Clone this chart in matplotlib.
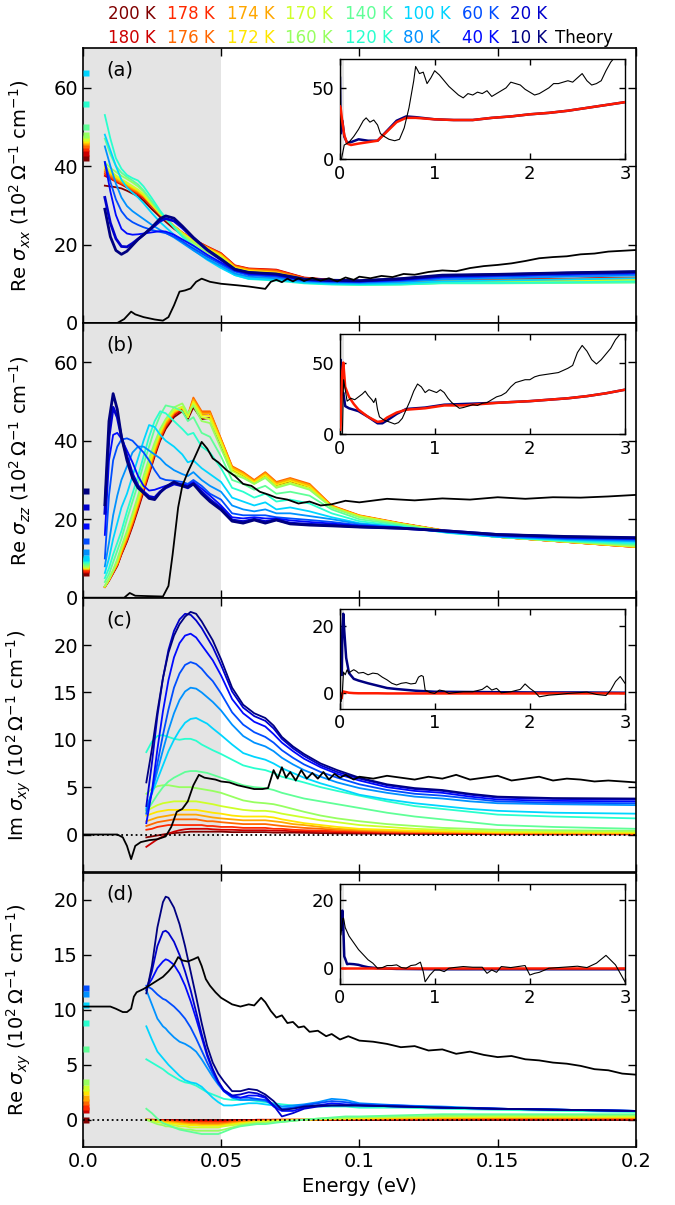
import numpy as np
import matplotlib
matplotlib.use('Agg')
import matplotlib.pyplot as plt

temps = [200, 180, 178, 176, 174, 172, 170, 160, 140, 120, 100, 80, 60, 40, 20, 10]
nan = np.nan

# ---------------- (a) Re sigma_xx ----------------
e_a = [0.008, 0.010, 0.012, 0.014, 0.016, 0.018, 0.020, 0.022, 0.025, 0.028, 0.030, 0.033, 0.036, 0.040,
       0.045, 0.050, 0.055, 0.060, 0.070, 0.080, 0.090, 0.100, 0.115, 0.130, 0.150, 0.175, 0.200]
re_xx = [
    [35.0, 34.8, 34.6, 34.3, 33.7, 33.0, 32.3, 31.2, 29.0, 27.0, 25.8, 24.0, 22.5, 20.8, 19.0, 17.3, 14.4, 13.7, 13.4, 11.5, 11.0, 10.6, 10.6, 11.0, 11.0, 11.2, 11.5],
    [37.5, 36.8, 36.0, 35.3, 34.5, 33.6, 32.8, 31.8, 29.7, 27.5, 26.3, 24.6, 23.0, 21.3, 19.5, 17.8, 14.7, 13.9, 13.6, 11.6, 11.0, 10.6, 10.6, 11.0, 11.1, 11.3, 11.6],
    [38.0, 37.0, 36.2, 35.5, 34.7, 33.8, 33.0, 32.0, 29.8, 27.6, 26.4, 24.6, 23.0, 21.3, 19.4, 17.7, 14.6, 13.8, 13.5, 11.5, 10.9, 10.5, 10.5, 10.9, 11.0, 11.2, 11.5],
    [38.5, 37.4, 36.5, 35.7, 34.9, 34.0, 33.2, 32.2, 30.0, 27.7, 26.5, 24.7, 23.0, 21.2, 19.3, 17.6, 14.5, 13.7, 13.3, 11.4, 10.8, 10.4, 10.4, 10.8, 10.9, 11.1, 11.4],
    [39.0, 37.8, 36.8, 36.0, 35.2, 34.3, 33.5, 32.4, 30.1, 27.8, 26.5, 24.7, 23.0, 21.1, 19.2, 17.4, 14.3, 13.5, 13.0, 11.2, 10.7, 10.3, 10.3, 10.7, 10.7, 10.9, 11.2],
    [39.5, 38.2, 37.2, 36.3, 35.5, 34.6, 33.8, 32.6, 30.2, 27.8, 26.5, 24.7, 22.9, 21.0, 19.0, 17.2, 14.1, 13.3, 12.8, 11.0, 10.5, 10.1, 10.1, 10.5, 10.5, 10.7, 11.0],
    [40.0, 38.7, 37.6, 36.6, 35.8, 34.9, 34.0, 32.8, 30.3, 27.9, 26.5, 24.6, 22.8, 20.8, 18.7, 16.9, 13.8, 13.0, 12.5, 10.8, 10.3, 10.0, 10.0, 10.4, 10.4, 10.5, 10.7],
    [41.0, 39.5, 38.5, 37.5, 36.7, 35.8, 34.8, 33.5, 30.8, 28.2, 26.7, 24.6, 22.6, 20.4, 18.0, 16.2, 13.3, 12.4, 11.8, 10.5, 10.1, 9.8, 9.9, 10.2, 10.2, 10.3, 10.4],
    [47.0, 43.0, 40.0, 38.3, 37.2, 36.3, 35.3, 33.8, 31.0, 28.2, 26.6, 24.4, 22.2, 19.8, 17.2, 15.0, 12.6, 11.6, 11.1, 10.2, 9.9, 9.7, 9.8, 10.1, 10.1, 10.2, 10.3],
    [53.0, 47.0, 42.0, 39.3, 37.7, 36.9, 36.3, 34.8, 31.8, 28.6, 26.8, 24.3, 22.0, 19.4, 16.6, 14.3, 12.2, 11.2, 10.8, 10.1, 9.8, 9.7, 9.8, 10.2, 10.2, 10.4, 10.6],
    [48.0, 44.0, 40.0, 36.5, 34.5, 33.2, 32.0, 30.5, 28.0, 25.7, 24.4, 22.5, 20.8, 18.6, 16.1, 14.0, 12.2, 11.3, 11.0, 10.3, 10.0, 9.9, 10.1, 10.6, 10.8, 11.1, 11.4],
    [45.0, 40.0, 35.5, 32.0, 29.8, 28.5, 27.5, 26.5, 25.0, 23.7, 23.0, 21.8, 20.4, 18.5, 16.3, 14.5, 12.6, 11.8, 11.4, 10.6, 10.3, 10.2, 10.5, 11.1, 11.4, 11.8, 12.1],
    [41.0, 36.0, 31.5, 28.5, 26.7, 25.7, 25.0, 24.4, 23.7, 23.2, 22.9, 22.0, 20.8, 19.0, 16.9, 15.0, 13.1, 12.2, 11.8, 10.8, 10.5, 10.4, 10.8, 11.5, 11.8, 12.2, 12.5],
    [41.0, 33.5, 27.5, 24.0, 22.8, 22.5, 22.6, 22.8, 23.1, 23.4, 23.3, 22.5, 21.3, 19.7, 17.4, 15.4, 13.4, 12.5, 12.1, 11.0, 10.7, 10.6, 11.0, 11.8, 12.1, 12.5, 12.8],
    [32.0, 25.5, 21.5, 19.5, 19.4, 20.3, 21.4, 22.5, 24.2, 26.0, 26.6, 26.0, 24.3, 21.6, 18.6, 16.1, 13.6, 12.8, 12.4, 11.1, 10.8, 10.7, 11.2, 12.0, 12.3, 12.7, 13.0],
    [29.0, 22.0, 18.5, 17.5, 18.3, 19.8, 21.3, 22.5, 24.4, 26.6, 27.3, 26.7, 24.7, 21.8, 18.7, 16.3, 13.7, 12.9, 12.5, 11.2, 10.9, 10.8, 11.3, 12.2, 12.4, 12.8, 13.1],
]
dc_xx = [42.0, 43.3, 44.5, 45.3, 46.2, 46.7, 47.2, 48.0, 50.0, 55.8, 63.8, nan, nan, nan, nan, nan]
th_a_e = [0.0, 0.0125, 0.015, 0.0175, 0.019, 0.022, 0.026, 0.029, 0.031, 0.033, 0.035, 0.037, 0.039, 0.041,
          0.043, 0.046, 0.050, 0.053, 0.056, 0.060, 0.063, 0.066, 0.068, 0.070, 0.072, 0.074, 0.076, 0.078,
          0.080, 0.083, 0.086, 0.089, 0.092, 0.095, 0.098, 0.100, 0.104, 0.108, 0.112, 0.116, 0.120, 0.125,
          0.130, 0.135, 0.140, 0.145, 0.150, 0.155, 0.160, 0.165, 0.170, 0.175, 0.180, 0.185, 0.190, 0.195, 0.200]
th_a = [0.0, 0.0, 1.0, 2.9, 2.2, 1.5, 0.9, 0.6, 1.5, 4.5, 8.0, 8.3, 8.8, 10.5,
        11.3, 10.5, 10.0, 9.8, 9.6, 9.3, 9.0, 8.7, 10.5, 11.0, 10.4, 11.3, 10.6, 11.4,
        10.7, 11.5, 10.8, 11.4, 10.6, 11.6, 11.0, 11.8, 11.4, 12.0, 11.7, 12.5, 12.3, 13.0,
        13.4, 13.2, 14.0, 14.5, 14.8, 15.2, 15.8, 16.5, 16.8, 17.0, 17.5, 17.7, 18.2, 18.4, 18.6]
ins_a_e = [0.005, 0.012, 0.03, 0.05, 0.08, 0.12, 0.2, 0.3, 0.4, 0.5, 0.6, 0.7, 0.8, 1.0, 1.2, 1.4,
           1.6, 1.8, 2.0, 2.2, 2.4, 2.6, 2.8, 3.0]
ins_a_cold = [57, 18, 27, 16, 11.5, 12, 14, 13, 13, 20, 27, 30, 29.5, 28, 27.5, 27.5, 29, 30, 31.5, 32.5, 34, 36, 38, 40]
ins_a_hot = [37, 36, 26, 17, 11, 10, 11, 12, 13, 19.5, 26, 29, 29, 28, 27.5, 27.5, 29, 30, 31.5, 32.5, 34, 36, 38, 40]
ins_a_th_e = [0, 0.02, 0.05, 0.1, 0.15, 0.2, 0.25, 0.28, 0.32, 0.36, 0.4, 0.43, 0.47, 0.52, 0.58, 0.63,
              0.68, 0.73, 0.78, 0.8, 0.84, 0.88, 0.92, 0.96, 1.0, 1.05, 1.1, 1.15, 1.2, 1.25, 1.3, 1.35,
              1.4, 1.45, 1.5, 1.55, 1.6, 1.65, 1.7, 1.75, 1.8, 1.85, 1.9, 1.95, 2.0, 2.05, 2.1, 2.15, 2.2,
              2.25, 2.3, 2.35, 2.4, 2.45, 2.5, 2.55, 2.6, 2.65, 2.7, 2.75, 2.8, 2.85, 2.9]
ins_a_th = [0, 0, 10, 12, 16, 21, 27, 29, 26, 27.5, 24, 18, 16, 14, 13, 14,
            22, 36, 55, 65, 60, 61, 53, 57, 62, 59, 55, 51, 48, 45, 43, 46,
            45, 47, 46, 48, 44, 46, 48, 50, 54, 53, 52, 49, 47, 45, 46, 48, 50,
            53, 53, 54, 55, 54, 57, 60, 55, 52, 53, 55, 62, 68, 72]

# ---------------- (b) Re sigma_zz ----------------
e_b = [0.008, 0.0095, 0.011, 0.0125, 0.014, 0.016, 0.018, 0.020, 0.022, 0.024, 0.026, 0.028, 0.030, 0.033,
       0.036, 0.038, 0.040, 0.043, 0.046, 0.050, 0.054, 0.058, 0.062, 0.066, 0.070, 0.075, 0.082, 0.090,
       0.100, 0.115, 0.132, 0.150, 0.175, 0.200]
re_zz = [
    [2.7, 4.3, 6.2, 8.1, 11, 14.3, 18.2, 22.5, 27, 31.5, 36, 40, 43, 46, 47.5, 45.5, 48.5, 45.5, 45.8, 38.8, 32.5, 31, 29.2, 31, 28.7, 29.6, 28.3, 23.2, 20.8, 18.9, 16.9, 15.5, 14.2, 13],
    [2.8, 4.4, 6.4, 8.3, 11.2, 14.6, 18.6, 23, 27.5, 32, 36.5, 40.5, 43.5, 46.5, 48, 46, 50, 46.8, 47, 40, 33, 31.5, 29.6, 31.5, 29.1, 30, 28.6, 23.3, 20.8, 18.9, 16.9, 15.5, 14.2, 12.9],
    [2.8, 4.5, 6.5, 8.4, 11.3, 14.8, 18.8, 23.2, 27.7, 32.2, 36.7, 40.7, 43.7, 46.8, 48.3, 46.3, 50.5, 47.2, 47.2, 40.3, 33.3, 31.8, 29.8, 31.8, 29.3, 30.3, 28.8, 23.4, 20.9, 18.9, 16.9, 15.5, 14.2, 12.9],
    [2.8, 4.5, 6.5, 8.5, 11.5, 15, 19, 23.5, 28, 32.5, 37, 41, 44, 47, 48.5, 46.5, 51, 47.5, 47.5, 40.5, 33.5, 32, 30, 32, 29.5, 30.5, 29, 23.5, 21, 19, 17, 15.6, 14.3, 13],
    [2.8, 4.5, 6.6, 8.7, 11.8, 15.4, 19.5, 24, 28.5, 33, 37.5, 41.5, 44.5, 47.2, 48.5, 46.3, 50.5, 47, 47, 40.2, 33.2, 31.7, 29.7, 31.7, 29.2, 30.2, 28.7, 23.3, 20.9, 18.9, 16.9, 15.5, 14.2, 12.9],
    [2.8, 4.6, 6.8, 9, 12.2, 16, 20, 24.5, 29, 33.5, 38, 42, 45, 47.5, 48.5, 46, 50, 46.5, 46.3, 39.8, 32.8, 31.3, 29.4, 31.3, 28.8, 29.8, 28.3, 23.2, 20.8, 18.8, 16.9, 15.5, 14.2, 13],
    [2.9, 4.8, 7, 9.5, 12.8, 16.5, 20.8, 25.3, 29.8, 34.2, 38.6, 42.5, 45.3, 47.8, 48.7, 46, 49.5, 46, 45.5, 39.2, 32.3, 30.8, 29, 30.8, 28.3, 29.3, 27.8, 23, 20.7, 18.8, 16.9, 15.5, 14.3, 13.1],
    [3, 4.8, 7, 9.8, 13, 17, 21.5, 26, 31, 35.5, 39.5, 43, 45.5, 48.5, 49.5, 47, 49, 45, 44.5, 38, 31.5, 30.5, 29, 30.5, 28, 29, 27.5, 23, 20.5, 18.7, 16.8, 15.5, 14.3, 13.2],
    [4, 6, 9, 12, 15, 20, 24.5, 29, 34, 38.5, 43, 46.5, 49, 48.5, 47.5, 45, 46, 42, 41, 36, 30, 29, 27.5, 28.5, 26.5, 27, 26, 22.5, 20, 18.5, 16.6, 15.5, 14.4, 13.5],
    [5, 7.5, 11, 14, 17, 22, 26.5, 31, 36, 41, 45, 47.5, 47, 45, 43, 41.5, 42, 38.5, 37, 33, 28, 27, 25.5, 26.5, 24.5, 25, 24, 21.5, 19.5, 18.2, 16.5, 15.5, 14.5, 13.8],
    [6.3, 10, 15, 19, 23, 26.5, 31, 35.5, 40, 44, 43.5, 41.5, 40, 38.5, 36.5, 34.5, 35, 33, 31.5, 29.5, 25.5, 24.5, 23.5, 24.3, 22.5, 23, 22, 20.5, 19, 18, 16.6, 15.5, 14.7, 14.2],
    [8, 14, 21, 26, 30, 33.5, 37, 38.5, 38.5, 37.5, 36.5, 35.5, 34, 32.5, 31.5, 31, 32, 30, 28.5, 27, 23.5, 22.5, 22, 22.5, 21.5, 21.5, 20.8, 20, 18.8, 17.9, 16.7, 15.6, 14.9, 14.5],
    [10, 26, 35, 38.5, 40.3, 40.6, 40, 38.5, 37, 35, 32.5, 30.5, 30, 29.8, 29.5, 29, 30, 28.5, 26.5, 25, 21.5, 21, 21, 21, 20.5, 20.2, 19.8, 19.3, 18.5, 17.8, 16.8, 15.8, 15.1, 14.8],
    [16, 35, 41.5, 42, 40.5, 37.5, 34.5, 31, 28.5, 27.3, 27.5, 28, 28.5, 29.2, 29, 28.6, 29.5, 27.8, 26, 23.5, 20.5, 20.2, 20.5, 20.2, 20.2, 19.7, 19.3, 18.9, 18.3, 17.8, 16.9, 15.9, 15.3, 15],
    [21.5, 41, 48.5, 46, 41, 36, 31.5, 28.5, 27, 25.8, 25.5, 27, 28, 29, 28.5, 28, 29, 27, 25, 22.8, 19.8, 19.4, 20, 19.4, 19.9, 19, 18.7, 18.5, 18.1, 17.7, 17, 16.1, 15.5, 15.2],
    [23.7, 45, 52, 48, 41, 35, 30.5, 28, 26.7, 25.3, 25, 26.8, 28.2, 29.5, 28.5, 28.2, 29, 26.5, 24.5, 22.4, 19.5, 19, 19.8, 19, 19.8, 18.8, 18.5, 18.3, 18, 17.7, 17, 16.1, 15.6, 15.3],
]
dc_zz = [6.3, 7.0, 7.4, 7.8, 8.0, 8.2, 8.4, 8.7, 9.0, 9.5, 10.2, 11.7, 14.5, 18.2, 23.2, 27.3]
th_b_e = [0, 0.015, 0.017, 0.019, 0.029, 0.031, 0.0325, 0.0345, 0.036, 0.038, 0.040, 0.043, 0.045, 0.047,
          0.049, 0.052, 0.055, 0.058, 0.061, 0.064, 0.067, 0.070, 0.074, 0.078, 0.082, 0.086, 0.090,
          0.095, 0.100, 0.110, 0.120, 0.130, 0.140, 0.150, 0.160, 0.170, 0.180, 0.190, 0.200]
th_b = [0, 0, 1.2, 0.5, 0.3, 3, 11, 23, 28.5, 32, 35, 39.7, 38, 35.5,
        34.5, 32.5, 31, 29, 28.5, 27, 26.3, 25.5, 25, 24, 24.5, 23.5, 23.8,
        24.7, 24.3, 25.2, 24.8, 25.3, 25, 25.6, 25.2, 25.6, 25.5, 25.8, 26.2]
ins_b_e = [0.008, 0.011, 0.02, 0.03, 0.04, 0.06, 0.1, 0.15, 0.2, 0.3, 0.4, 0.45, 0.5, 0.6, 0.7, 0.8,
           0.9, 1.0, 1.1, 1.3, 1.5, 1.7, 2.0, 2.2, 2.4, 2.6, 2.8, 3.0]
ins_b_cold = [24, 52, 28, 28, 29, 19.5, 18, 17, 16, 12, 7.5, 7.5, 9.5, 14, 17.5, 18,
              18.5, 19.5, 20.5, 21, 21.5, 22, 23, 24, 25, 26.5, 28.5, 31]
ins_b_hot = [3, 6, 23, 44, 50, 33, 26, 21, 17, 12, 8.5, 9, 11.5, 15, 17, 17.5,
             18, 19, 20, 20, 21, 22, 23, 24, 25, 26.5, 28.5, 31]
ins_b_th_e = [0, 0.03, 0.043, 0.08, 0.12, 0.16, 0.2, 0.24, 0.27, 0.3, 0.34, 0.36, 0.38, 0.4, 0.42, 0.46,
              0.5, 0.54, 0.58, 0.62, 0.66, 0.7, 0.74, 0.78, 0.82, 0.86, 0.9, 0.94, 0.98, 1.02, 1.06,
              1.1, 1.14, 1.18, 1.22, 1.26, 1.3, 1.35, 1.4, 1.45, 1.5, 1.55, 1.6, 1.65, 1.7, 1.75, 1.8,
              1.85, 1.9, 1.95, 2.0, 2.05, 2.1, 2.2, 2.3, 2.4, 2.45, 2.5, 2.55, 2.6, 2.65, 2.7, 2.75,
              2.8, 2.85, 2.9, 2.95, 3.0]
ins_b_th = [0, 0, 38, 23, 25, 24, 26, 28, 30, 27, 24, 22, 25, 17, 12, 10,
            9, 8, 7, 8, 11, 17, 23, 30, 35, 33, 29, 31, 30, 29, 31,
            29, 25, 22, 20, 18, 18.5, 19.5, 20.5, 20, 21.5, 22, 24, 26, 27, 29, 33,
            36, 37, 38, 38, 40, 41, 42, 43, 46, 48, 57, 62, 58, 52, 49, 52,
            56, 60, 66, 70, 72]

# ---------------- (c) Im sigma_xy ----------------
e_c = [0.023, 0.025, 0.027, 0.029, 0.031, 0.033, 0.035, 0.037, 0.039, 0.041, 0.043, 0.045, 0.047, 0.050,
       0.054, 0.058, 0.062, 0.066, 0.069, 0.072, 0.076, 0.080, 0.086, 0.092, 0.100, 0.110, 0.120, 0.130,
       0.140, 0.150, 0.170, 0.200]
im_xy = [
    [-0.3, -0.2, -0.1, 0.0, 0.1, 0.15, 0.2, 0.25, 0.3, 0.3, 0.3, 0.3, 0.3, 0.3, 0.25, 0.25, 0.25, 0.25, 0.2, 0.2, 0.2, 0.18, 0.15, 0.12, 0.1, 0.08, 0.06, 0.05, 0.04, 0.03, 0.02, 0.02],
    [-1.3, -0.9, -0.5, -0.2, 0.1, 0.3, 0.45, 0.55, 0.6, 0.6, 0.6, 0.6, 0.55, 0.5, 0.5, 0.45, 0.45, 0.45, 0.4, 0.4, 0.35, 0.3, 0.3, 0.25, 0.2, 0.18, 0.15, 0.12, 0.1, 0.08, 0.06, 0.05],
    [0.5, 0.6, 0.8, 0.9, 1.0, 1.0, 1.0, 1.0, 1.0, 1.0, 1.0, 0.9, 0.9, 0.8, 0.8, 0.7, 0.7, 0.7, 0.6, 0.6, 0.5, 0.45, 0.4, 0.35, 0.3, 0.25, 0.2, 0.18, 0.15, 0.12, 0.1, 0.08],
    [0.9, 1.1, 1.3, 1.4, 1.5, 1.6, 1.6, 1.6, 1.6, 1.6, 1.5, 1.4, 1.4, 1.3, 1.2, 1.1, 1.1, 1.1, 1.0, 0.9, 0.8, 0.7, 0.6, 0.5, 0.4, 0.3, 0.25, 0.2, 0.2, 0.15, 0.12, 0.1],
    [1.4, 1.6, 1.8, 1.9, 2.0, 2.1, 2.1, 2.1, 2.1, 2.1, 2.0, 1.9, 1.8, 1.7, 1.6, 1.5, 1.5, 1.5, 1.4, 1.3, 1.1, 1.0, 0.8, 0.6, 0.5, 0.4, 0.3, 0.28, 0.25, 0.2, 0.18, 0.15],
    [2.0, 2.2, 2.4, 2.5, 2.6, 2.6, 2.6, 2.6, 2.6, 2.6, 2.5, 2.4, 2.3, 2.2, 2.0, 1.9, 1.9, 1.9, 1.8, 1.6, 1.4, 1.2, 1.0, 0.8, 0.6, 0.5, 0.4, 0.35, 0.3, 0.25, 0.22, 0.2],
    [2.5, 2.8, 3.1, 3.3, 3.4, 3.5, 3.5, 3.5, 3.5, 3.5, 3.4, 3.3, 3.2, 3.0, 2.8, 2.6, 2.5, 2.5, 2.4, 2.2, 2.0, 1.8, 1.5, 1.3, 1.0, 0.8, 0.6, 0.5, 0.4, 0.35, 0.3, 0.3],
    [4.3, 4.8, 5.1, 5.2, 5.2, 5.1, 5.0, 5.0, 5.0, 4.9, 4.8, 4.7, 4.6, 4.4, 4.0, 3.6, 3.4, 3.3, 3.2, 3.0, 2.7, 2.4, 2.0, 1.7, 1.4, 1.1, 0.9, 0.7, 0.6, 0.5, 0.45, 0.4],
    [2.4, 3.3, 4.2, 5.0, 5.6, 6.0, 6.3, 6.6, 6.7, 6.7, 6.6, 6.5, 6.3, 6.0, 5.6, 5.2, 5.0, 4.9, 4.7, 4.4, 4.1, 3.8, 3.5, 3.2, 2.8, 2.3, 1.9, 1.6, 1.3, 1.0, 0.8, 0.6],
    [8.7, 9.8, 10.4, 10.5, 10.3, 10.1, 10.0, 10.1, 10.1, 9.9, 9.5, 9.2, 8.9, 8.5, 7.9, 7.3, 7.0, 6.8, 6.5, 6.1, 5.8, 5.5, 5.0, 4.6, 4.1, 3.5, 3.0, 2.7, 2.4, 2.1, 1.9, 1.7],
    [2.8, 4.3, 5.8, 7.3, 8.8, 10.0, 11.0, 11.8, 12.2, 12.3, 12.0, 11.7, 11.2, 10.5, 9.5, 8.6, 8.2, 7.9, 7.5, 7.0, 6.5, 6.0, 5.4, 4.9, 4.2, 3.7, 3.3, 3.0, 2.7, 2.5, 2.3, 2.2],
    [2.6, 4.5, 6.7, 8.9, 11.0, 12.8, 14.2, 15.1, 15.5, 15.4, 15.0, 14.5, 14.0, 13.1, 11.6, 10.4, 9.7, 9.3, 8.8, 8.1, 7.4, 6.8, 6.1, 5.5, 4.9, 4.4, 4.0, 3.8, 3.5, 3.3, 3.2, 3.1],
    [2.2, 4.5, 7.5, 10.5, 13.2, 15.5, 17.0, 17.9, 18.2, 18.0, 17.5, 16.8, 16.2, 14.9, 12.9, 11.6, 10.8, 10.3, 9.7, 8.9, 8.1, 7.4, 6.6, 6.0, 5.3, 4.7, 4.3, 4.1, 3.8, 3.5, 3.35, 3.3],
    [1.2, 4.5, 9.0, 13.0, 16.3, 18.7, 20.2, 21.0, 21.2, 20.8, 20.0, 19.2, 18.4, 16.8, 14.3, 12.8, 11.9, 11.4, 10.6, 9.7, 8.8, 8.0, 7.1, 6.4, 5.7, 5.0, 4.6, 4.4, 4.0, 3.7, 3.55, 3.5],
    [3.0, 7.5, 12.5, 16.5, 19.5, 21.5, 22.7, 23.3, 23.2, 22.6, 21.8, 20.8, 19.8, 17.9, 15.1, 13.4, 12.5, 12.0, 11.2, 10.1, 9.1, 8.3, 7.3, 6.6, 5.9, 5.2, 4.8, 4.6, 4.2, 3.9, 3.75, 3.7],
    [5.5, 9.0, 13.0, 16.5, 19.2, 21.0, 22.2, 23.0, 23.5, 23.3, 22.5, 21.5, 20.5, 18.5, 15.5, 13.7, 12.8, 12.3, 11.5, 10.3, 9.3, 8.5, 7.5, 6.8, 6.0, 5.3, 4.9, 4.7, 4.3, 4.0, 3.85, 3.8],
]
th_c_e = [0, 0.0125, 0.0145, 0.016, 0.0175, 0.019, 0.021, 0.024, 0.027, 0.030, 0.032, 0.034, 0.036, 0.038,
          0.040, 0.042, 0.044, 0.046, 0.048, 0.050, 0.053, 0.056, 0.059, 0.062, 0.065, 0.067, 0.069,
          0.0705, 0.072, 0.0735, 0.075, 0.077, 0.079, 0.081, 0.083, 0.085, 0.087, 0.089, 0.091, 0.093,
          0.095, 0.098, 0.1, 0.105, 0.11, 0.115, 0.12, 0.125, 0.13, 0.135, 0.14, 0.145, 0.15, 0.155,
          0.16, 0.165, 0.17, 0.175, 0.18, 0.185, 0.19, 0.195, 0.2]
th_c = [0, 0, -0.3, -1.2, -2.6, -1.2, -0.8, -0.6, -0.5, -0.2, 0.8, 2.4, 2.7, 3.5,
        5.2, 6.3, 6.0, 5.9, 5.8, 5.6, 5.5, 5.2, 5.0, 4.8, 4.8, 4.9, 6.8,
        5.9, 7.1, 6.0, 6.6, 5.7, 6.8, 5.9, 6.5, 5.9, 6.6, 5.8, 6.4, 6.0,
        6.3, 5.8, 6.1, 5.9, 6.2, 6.0, 5.8, 6.1, 5.9, 6.3, 5.8, 6.0, 6.2, 5.7,
        5.9, 6.1, 5.7, 5.9, 5.8, 5.6, 5.7, 5.6, 5.5]
ins_c_e = [0.023, 0.03, 0.04, 0.05, 0.07, 0.1, 0.15, 0.2, 0.3, 0.4, 0.5, 0.6, 0.8, 1.0, 1.5, 2.0, 2.5, 3.0]
ins_c_cold = [5.5, 19, 23.5, 18.5, 10.5, 6.0, 4.3, 3.8, 3.0, 2.3, 1.6, 1.3, 0.8, 0.5, 0.4, 0.3, 0.3, 0.2]
ins_c_hot = [-1.3, 0.1, 0.6, 0.5, 0.4, 0.2, 0.1, 0.05, 0.05, 0.05, 0.0, 0.0, 0.0, 0.0, 0.0, 0.0, 0.0, 0.0]
ins_c_th_e = [0, 0.012, 0.018, 0.03, 0.042, 0.06, 0.08, 0.1, 0.12, 0.15, 0.18, 0.2, 0.25, 0.3, 0.35, 0.4,
              0.45, 0.5, 0.55, 0.6, 0.65, 0.7, 0.75, 0.8, 0.83, 0.86, 0.88, 0.9, 0.95, 1.0, 1.05, 1.1,
              1.15, 1.2, 1.3, 1.4, 1.5, 1.55, 1.6, 1.65, 1.7, 1.8, 1.9, 1.95, 2.0, 2.05, 2.1, 2.2, 2.3,
              2.4, 2.5, 2.6, 2.7, 2.8, 2.85, 2.9, 2.95, 3.0]
ins_c_th = [0, 0, -2.4, 0.5, 6.3, 5.5, 7, 6, 6.5, 7, 6.5, 6, 6.2, 5.5, 6, 5.8,
            4.8, 4, 3, 2.5, 3, 3.2, 2.8, 3, 4.8, 5.3, 5.0, 1.0, 0.3, 0.0, 1.0, 0.7,
            0.0, 0.2, 0.5, 0.5, 1.2, 2.2, 1.0, 1.5, 0.2, 0.5, 1.2, 2.8, 1.5, 0.5, -1.0, -0.5, -0.3,
            0.0, 0.2, 0.4, -0.3, -0.6, 1.0, 3.5, 5.0, 3.0]

# ---------------- (d) Re sigma_xy ----------------
e_d = [0.023, 0.025, 0.027, 0.029, 0.030, 0.031, 0.033, 0.035, 0.037, 0.039, 0.041, 0.043, 0.045, 0.047,
       0.049, 0.051, 0.054, 0.057, 0.060, 0.063, 0.066, 0.069, 0.072, 0.076, 0.080, 0.085, 0.090, 0.095,
       0.100, 0.115, 0.130, 0.150, 0.175, 0.200]
re_xy = [
    [0.0, 0.0, 0.0, 0.0, 0.0, 0.0, 0.0, 0.0, 0.0, 0.0, 0.0, 0.0, 0.0, 0.0, 0.0, 0.0, 0.0, 0.0, 0.0, 0.0, 0.0, 0.0, 0.0, 0.0, 0.0, 0.0, 0.0, 0.0, 0.0, 0.0, 0.0, 0.0, 0.0, 0.0],
    [0, 0, 0, -0.05, -0.05, -0.05, -0.05, -0.05, -0.1, -0.1, -0.1, -0.1, -0.1, -0.1, -0.1, -0.1, -0.05, -0.05, -0.05, 0, 0, 0, 0, 0, 0, 0, 0.02, 0.02, 0.03, 0.04, 0.05, 0.05, 0.05, 0.05],
    [0, 0, -0.05, -0.05, -0.1, -0.1, -0.1, -0.15, -0.15, -0.2, -0.2, -0.2, -0.2, -0.2, -0.2, -0.2, -0.15, -0.1, -0.1, -0.05, -0.05, 0, 0, 0, 0, 0.02, 0.03, 0.04, 0.05, 0.07, 0.08, 0.1, 0.1, 0.1],
    [0, -0.05, -0.1, -0.1, -0.15, -0.15, -0.2, -0.2, -0.25, -0.3, -0.3, -0.3, -0.3, -0.3, -0.3, -0.3, -0.2, -0.15, -0.1, -0.1, -0.05, -0.05, 0, 0, 0, 0.02, 0.04, 0.06, 0.08, 0.1, 0.12, 0.15, 0.15, 0.15],
    [0, -0.05, -0.1, -0.15, -0.2, -0.2, -0.25, -0.3, -0.35, -0.4, -0.4, -0.45, -0.45, -0.45, -0.45, -0.4, -0.3, -0.25, -0.2, -0.15, -0.1, -0.08, -0.05, 0, 0, 0.03, 0.05, 0.08, 0.1, 0.15, 0.18, 0.2, 0.2, 0.2],
    [0, -0.1, -0.2, -0.25, -0.3, -0.3, -0.35, -0.4, -0.45, -0.5, -0.5, -0.55, -0.55, -0.55, -0.55, -0.5, -0.4, -0.3, -0.25, -0.2, -0.15, -0.1, -0.1, -0.05, 0, 0.05, 0.08, 0.1, 0.15, 0.2, 0.22, 0.25, 0.25, 0.25],
    [0, -0.1, -0.2, -0.3, -0.4, -0.4, -0.5, -0.6, -0.6, -0.7, -0.7, -0.7, -0.7, -0.7, -0.7, -0.6, -0.5, -0.4, -0.3, -0.2, -0.2, -0.15, -0.1, -0.05, 0, 0.05, 0.1, 0.15, 0.2, 0.25, 0.3, 0.3, 0.3, 0.3],
    [0, -0.2, -0.4, -0.5, -0.6, -0.6, -0.7, -0.8, -0.9, -0.9, -1.0, -1.0, -1.0, -1.0, -1.0, -0.9, -0.7, -0.5, -0.4, -0.3, -0.3, -0.2, -0.2, -0.1, 0, 0.1, 0.15, 0.2, 0.25, 0.3, 0.35, 0.4, 0.4, 0.4],
    [1.0, 0.6, 0.1, -0.3, -0.4, -0.5, -0.7, -0.9, -1.0, -1.1, -1.2, -1.3, -1.3, -1.3, -1.3, -1.1, -0.8, -0.6, -0.5, -0.4, -0.4, -0.3, -0.2, -0.1, 0.0, 0.1, 0.2, 0.3, 0.3, 0.4, 0.5, 0.5, 0.5, 0.5],
    [5.5, 5.2, 4.9, 4.6, 4.4, 4.2, 3.9, 3.6, 3.4, 3.3, 3.1, 2.8, 2.5, 2.3, 2.1, 1.9, 1.8, 1.8, 1.8, 1.7, 1.6, 1.5, 1.4, 1.3, 1.3, 1.2, 1.2, 1.2, 1.1, 1.1, 1.0, 0.9, 0.8, 0.7],
    [8.5, 7.3, 6.2, 5.6, 5.3, 5.0, 4.5, 4.0, 3.6, 3.4, 3.3, 3.0, 2.5, 2.0, 1.6, 1.3, 1.3, 1.4, 1.5, 1.5, 1.4, 1.3, 1.2, 1.2, 1.2, 1.3, 1.3, 1.3, 1.3, 1.2, 1.1, 1.0, 0.9, 0.8],
    [11.8, 10.5, 9.2, 8.5, 8.3, 8.0, 7.5, 7.1, 6.9, 6.6, 6.2, 5.5, 4.7, 3.9, 3.2, 2.6, 2.0, 1.8, 1.8, 1.8, 1.7, 1.4, 1.2, 1.3, 1.4, 1.6, 1.9, 1.8, 1.5, 1.3, 1.2, 1.0, 0.9, 0.8],
    [12.2, 11.9, 11.4, 11.0, 10.9, 10.7, 10.3, 9.8, 9.2, 8.4, 7.4, 6.3, 5.2, 4.2, 3.3, 2.7, 2.2, 2.0, 2.0, 1.9, 1.8, 1.3, 1.0, 1.1, 1.3, 1.5, 1.7, 1.6, 1.4, 1.3, 1.1, 1.0, 0.9, 0.8],
    [12.0, 12.8, 13.8, 14.4, 14.6, 14.5, 14.1, 13.3, 12.2, 10.8, 9.2, 7.5, 5.8, 4.5, 3.4, 2.6, 2.1, 2.0, 2.2, 2.2, 2.0, 1.2, 0.8, 0.8, 1.1, 1.3, 1.5, 1.4, 1.3, 1.2, 1.1, 1.0, 0.9, 0.8],
    [11.8, 13.5, 15.8, 17.1, 17.2, 17.0, 16.2, 15.0, 13.5, 11.8, 9.8, 7.8, 6.0, 4.6, 3.5, 2.7, 2.2, 2.3, 2.5, 2.4, 2.1, 1.3, 0.3, 0.6, 1.0, 1.2, 1.3, 1.3, 1.3, 1.2, 1.1, 1.0, 0.9, 0.8],
    [11.5, 14.0, 17.5, 19.8, 20.3, 20.2, 19.3, 17.8, 15.8, 13.5, 11.2, 8.8, 6.7, 5.2, 4.2, 3.5, 2.6, 2.6, 2.8, 2.7, 2.3, 1.7, 0.9, 1.0, 1.2, 1.3, 1.3, 1.3, 1.3, 1.2, 1.1, 1.0, 0.9, 0.8],
]
dc_xy = [0.0, 0.9, 1.2, 1.6, 2.0, 2.5, 2.9, 3.4, 6.4, 8.8, 10.4, 11.4, 12.0, nan, nan, nan]
th_d_e = [0, 0.010, 0.012, 0.0145, 0.016, 0.0175, 0.0185, 0.0195, 0.022, 0.024, 0.0265, 0.029, 0.031, 0.033,
          0.0345, 0.036, 0.038, 0.040, 0.0417, 0.043, 0.0445, 0.046, 0.048, 0.050, 0.052, 0.054, 0.057,
          0.060, 0.062, 0.0645, 0.066, 0.068, 0.070, 0.072, 0.074, 0.076, 0.078, 0.080, 0.082, 0.085,
          0.088, 0.090, 0.093, 0.096, 0.1, 0.105, 0.11, 0.115, 0.12, 0.125, 0.13, 0.135, 0.14, 0.145,
          0.15, 0.155, 0.16, 0.165, 0.17, 0.175, 0.18, 0.185, 0.19, 0.195, 0.2]
th_d = [10.3, 10.3, 10.1, 9.8, 9.8, 10.1, 11.2, 11.6, 11.9, 12.2, 12.6, 13.0, 13.5, 14.1,
        14.8, 14.5, 14.4, 14.6, 14.8, 14.0, 12.8, 12.2, 11.6, 11.1, 10.8, 10.5, 10.3,
        10.5, 10.4, 11.1, 10.7, 9.9, 9.3, 9.5, 8.8, 8.9, 8.4, 8.5, 8.0, 8.1,
        7.6, 7.8, 7.3, 7.6, 7.2, 7.1, 6.9, 6.6, 6.7, 6.3, 6.4, 6.0, 6.2, 5.9,
        5.7, 5.8, 5.5, 5.4, 5.2, 5.1, 4.9, 4.6, 4.5, 4.2, 4.1]
ins_d_e = [0.023, 0.03, 0.04, 0.05, 0.06, 0.08, 0.1, 0.15, 0.2, 0.25, 0.3, 0.4, 0.6, 1.0, 1.5, 2.0, 2.5, 3.0]
ins_d_cold = [11.5, 17, 12, 3.5, 2.8, 1.2, 1.3, 1.2, 1.0, 0.6, 0.3, 0.0, -0.2, -0.3, -0.3, -0.3, -0.3, -0.3]
ins_d_hot = [0.0, 0.0, 0.0, 0.0, 0.0, 0.0, 0.0, 0.0, 0.0, 0.0, 0.0, 0.0, 0.0, 0.0, 0.0, 0.0, 0.0, 0.0]
ins_d_th_e = [0, 0.015, 0.035, 0.042, 0.06, 0.1, 0.15, 0.2, 0.25, 0.3, 0.35, 0.4, 0.45, 0.5, 0.55, 0.6,
              0.65, 0.7, 0.75, 0.8, 0.85, 0.88, 0.9, 0.95, 1.0, 1.05, 1.1, 1.15, 1.2, 1.3, 1.4, 1.5,
              1.55, 1.6, 1.65, 1.7, 1.8, 1.9, 1.95, 2.0, 2.05, 2.1, 2.2, 2.3, 2.4, 2.5, 2.6, 2.7, 2.8,
              2.9, 2.95, 3.0]
ins_d_th = [10.3, 9.8, 14.7, 14.8, 12.0, 9.5, 7.5, 5.5, 4.0, 2.5, 1.5, 0.0, 0.2, 0.8, 0.8, 1.0,
            0.2, 0.0, 0.8, 1.0, 1.8, -1.0, -4.0, -2.0, -0.5, -0.5, -1.0, 0.0, 0.2, 0.5, 0.3, 0.3,
            -1.5, -0.5, -1.2, 0.5, 0.2, 0.6, 0.8, -2.0, -1.5, -1.2, 0.0, 0.2, 0.4, 0.6, 0.2, 1.5, 3.8,
            1.0, -1.5, -4.0]

# ---------------- figure ----------------
W, H = 675, 1205
fig = plt.figure(figsize=(W / 100, H / 100), dpi=100)
cmap = plt.cm.jet
colors = [cmap(v) for v in np.linspace(1.0, 0.0, len(temps))]
cold_c = colors[-1]
hot_c = cmap(0.88)

tops = [48.3, 323.0, 597.7, 872.5]
ph = 274.7
shade = '#e4e4e4'

panels = [
    dict(e=e_a, rows=re_xx, dc=dc_xx, th=(th_a_e, th_a), ylim=(0, 70), yt=[0, 20, 40, 60],
         lab='(a)', yl=r'Re $\sigma_{xx}$ (10$^2\,\Omega^{-1}$ cm$^{-1}$)', zero=False,
         ins=(ins_a_e, ins_a_cold, ins_a_hot, ins_a_th_e, ins_a_th), iyl=(0, 70), iyt=[0, 50], thick=True),
    dict(e=e_b, rows=re_zz, dc=dc_zz, th=(th_b_e, th_b), ylim=(0, 70), yt=[0, 20, 40, 60],
         lab='(b)', yl=r'Re $\sigma_{zz}$ (10$^2\,\Omega^{-1}$ cm$^{-1}$)', zero=False,
         ins=(ins_b_e, ins_b_cold, ins_b_hot, ins_b_th_e, ins_b_th), iyl=(0, 70), iyt=[0, 50], thick=True),
    dict(e=e_c, rows=im_xy, dc=None, th=(th_c_e, th_c), ylim=(-4, 25), yt=[0, 5, 10, 15, 20],
         lab='(c)', yl=r'Im $\sigma_{xy}$ (10$^2\,\Omega^{-1}$ cm$^{-1}$)', zero=True,
         ins=(ins_c_e, ins_c_cold, ins_c_hot, ins_c_th_e, ins_c_th), iyl=(-4.5, 25), iyt=[0, 20], thick=False),
    dict(e=e_d, rows=re_xy, dc=dc_xy, th=(th_d_e, th_d), ylim=(-2.5, 22.5), yt=[0, 5, 10, 15, 20],
         lab='(d)', yl=r'Re $\sigma_{xy}$ (10$^2\,\Omega^{-1}$ cm$^{-1}$)', zero=True,
         ins=(ins_d_e, ins_d_cold, ins_d_hot, ins_d_th_e, ins_d_th), iyl=(-4.5, 25), iyt=[0, 20], thick=False),
]

for i, p in enumerate(panels):
    ax = fig.add_axes([82.7 / W, 1 - (tops[i] + ph) / H, 553.3 / W, ph / H])
    ax.axvspan(0, 0.05, color=shade, lw=0, zorder=0)
    for k, row in enumerate(p['rows']):
        lw = 2.0 if (p['thick'] and temps[k] <= 20) else 1.3
        ax.plot(p['e'], row, color=colors[k], lw=lw, zorder=2)
    if p['dc'] is not None:
        for k, v in enumerate(p['dc']):
            ax.plot([0.0012], [v], 's', color=colors[k], ms=5, mec='none', zorder=3)
    ax.plot(p['th'][0], p['th'][1], color='k', lw=1.3, zorder=4)
    if p['zero']:
        ax.axhline(0, color='k', ls=':', lw=1.3, zorder=5)
    ax.set_xlim(0, 0.2)
    ax.set_ylim(*p['ylim'])
    ax.set_yticks(p['yt'])
    ax.set_xticks([0, 0.05, 0.1, 0.15, 0.2])
    ax.tick_params(direction='in', top=True, right=True, length=6, width=1, labelsize=14)
    if i == 3:
        ax.set_xticklabels(['0.0', '0.05', '0.1', '0.15', '0.2'])
        ax.set_xlabel('Energy (eV)', fontsize=14)
    else:
        ax.tick_params(labelbottom=False)
    ax.set_ylabel(p['yl'], fontsize=14)
    ax.yaxis.set_label_coords(-0.09, 0.5)
    ax.text(0.042, 0.955, p['lab'], transform=ax.transAxes, fontsize=14, va='top')
    for s in ax.spines.values():
        s.set_linewidth(1.2)

    # inset
    ie, icold, ihot, ithe, ith = p['ins']
    ia = fig.add_axes([339.5 / W, 1 - (tops[i] + 11 + 100) / H, 285.5 / W, 100 / H])
    ia.axvspan(0, 0.05, color=shade, lw=0, zorder=0)
    ia.plot(ie, icold, color=cold_c, lw=1.8, zorder=2)
    ia.plot(ie, ihot, color=hot_c, lw=1.8, zorder=3)
    ia.plot(ithe, ith, color='k', lw=0.8, zorder=4)
    ia.set_xlim(0, 3)
    ia.set_ylim(*p['iyl'])
    ia.set_xticks([0, 1, 2, 3])
    ia.set_yticks(p['iyt'])
    ia.tick_params(direction='in', top=True, right=True, length=4, width=1, labelsize=13)
    ia.tick_params(axis='x', pad=4)
    ia.tick_params(axis='y', pad=4)
    for s in ia.spines.values():
        s.set_linewidth(1.0)

# colored temperature legend on top
col_x = [108, 167, 227, 285, 345, 403, 462, 510]
row1 = [200, 178, 174, 170, 140, 100, 60, 20]
row2 = [180, 176, 172, 160, 120, 80, 40, 10]
for x, t in zip(col_x, row1):
    fig.text(x / W, 1 - 14 / H, f'{t} K', color=colors[temps.index(t)], fontsize=12, va='center')
for x, t in zip(col_x, row2):
    fig.text(x / W, 1 - 38 / H, f'{t} K', color=colors[temps.index(t)], fontsize=12, va='center')
fig.text(555 / W, 1 - 38 / H, 'Theory', color='k', fontsize=12, va='center')

fig.savefig('out.png', dpi=100)
